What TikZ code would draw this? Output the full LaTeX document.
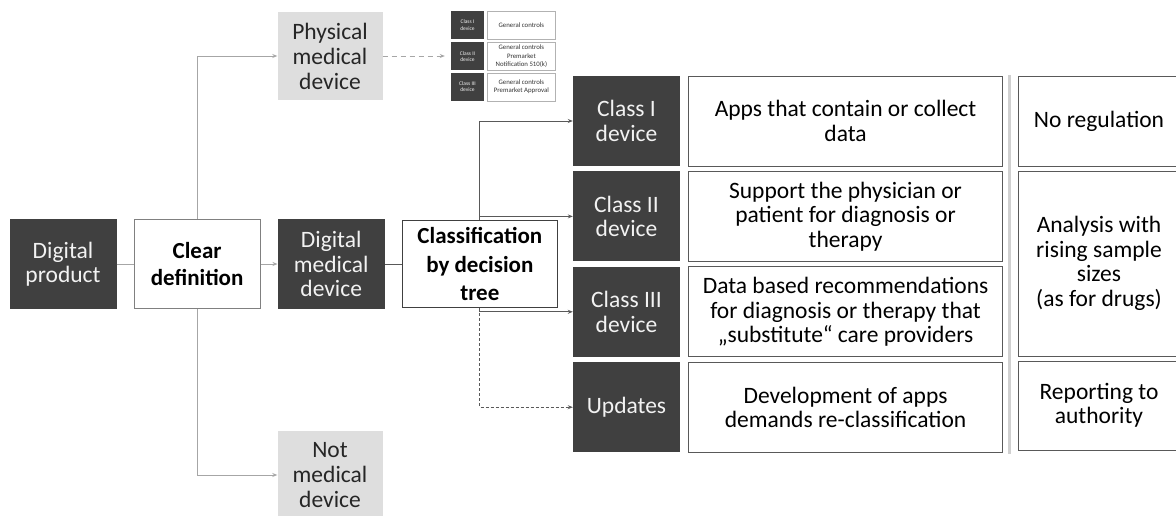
\documentclass[tikz,border=0pt]{standalone}
\usepackage{fontspec}
\setmainfont{Carlito}
\usepackage{xcolor}
\usetikzlibrary{arrows.meta,positioning}

\definecolor{boxdark}{HTML}{404040}
\definecolor{boxlight}{HTML}{DEDEDE}
\definecolor{linegray}{HTML}{A6A6A6}
\definecolor{linedark}{HTML}{595959}
\definecolor{sepgray}{HTML}{D0D0D0}

\begin{document}
\begin{tikzpicture}[
		x=1pt, y=-1pt,
		>={Stealth[length=5pt,width=4pt]},
		node distance = 5pt and 8pt,
		every node/.style = {font=\fontsize{23.5}{24.5}\selectfont, align=center, inner sep=0pt},
		darkbox/.style = {fill=boxdark, text=black!5, minimum width=107pt, minimum height=90pt},
		lightbox/.style = {fill=boxlight, text=black!85, minimum width=105pt, minimum height=88pt,
			font=\fontsize{23.5}{25}\selectfont},
		clearbox/.style = {draw=black!50, fill=white, line width=0.8pt, minimum width=126pt, minimum height=89pt,
			font=\fontsize{23}{27}\selectfont\bfseries},
		treebox/.style = {draw=boxdark, fill=white, line width=0.9pt, minimum width=155pt, minimum height=87pt,
			font=\fontsize{23}{28.3}\selectfont\bfseries},
		descbox/.style = {draw=linedark, fill=white, line width=0.7pt, minimum width=314pt, minimum height=90pt},
		rulebox/.style = {draw=linedark, fill=white, line width=0.7pt, minimum width=162pt},
		tabdark/.style = {fill=boxdark, text=black!5, minimum width=33pt, minimum height=28pt, font=\fontsize{5.5}{6.5}\selectfont},
		tabtext/.style = {draw=black!30, fill=white, text=black!80, minimum width=68pt, minimum height=28pt, font=\fontsize{6.8}{8.5}\selectfont},
		graylink/.style = {draw=linegray, line width=0.9pt},
		darklink/.style = {draw=linedark, line width=0.9pt}
		]
		\useasboundingbox (0,0) rectangle (1176,515);
		
		% Main row ------------------------------------------------------
		\node[darkbox] (prod) at (63,264) {Digital\\product};
		\node[clearbox, right=17pt of prod] (clear) {Clear\\definition};
		\node[darkbox, right=17pt of clear] (dmd) {Digital\\medical\\device};
		\node[treebox, right=17pt of dmd] (tree) {Classification\\by decision\\tree};
		
		% Side branches -------------------------------------------------
		\node[lightbox] (phys) at (330,56) {Physical\\medical\\device};
		\node[lightbox] (notmed) at (330,475) {Not\\medical\\device};
		
		% Small FDA table -----------------------------------------------
		\node[tabdark] (tab1) at (467.5,25) {Class I\\device};
		\node[tabdark, below=3pt of tab1] (tab2) {Class II\\device};
		\node[tabdark, below=2pt of tab2] (tab3) {Class III\\device};
		\node[tabtext, right=3pt of tab1] (ctl1) {General controls};
		\node[tabtext, right=3pt of tab2] (ctl2) {General controls\\Premarket\\Notification 510(k)};
		\node[tabtext, right=3pt of tab3] (ctl3) {General controls\\Premarket Approval};
		
		% Classes -------------------------------------------------------
		\node[darkbox] (cls1) at (626.5,121) {Class I\\device};
		\node[darkbox, below=of cls1] (cls2) {Class II\\device};
		\node[darkbox, below=of cls2] (cls3) {Class III\\device};
		\node[darkbox, below=of cls3] (upd) {Updates};
		
		\node[descbox, right=of cls1] (desc1) {Apps that contain or collect\\data};
		\node[descbox, right=of cls2] (desc2) {Support the physician or\\patient for diagnosis or\\therapy};
		\node[descbox, right=of cls3] (desc3) {Data based recommendations\\for diagnosis or therapy that\\„substitute“ care providers};
		\node[descbox, right=of upd] (desc4) {Development of apps\\demands re-classification};
		
		% Regulation ----------------------------------------------------
		\node[rulebox, minimum height=90pt] (reg1) at (1099,121) {No regulation};
		\node[rulebox, minimum height=185pt] (reg2) at (1099,263.5) {Analysis with\\rising sample\\sizes\\(as for drugs)};
		\node[rulebox, minimum height=89pt] (reg3) at (1099,405.5) {Reporting to\\authority};
		\draw[sepgray, line width=3pt] (1009,75) -- (1009,454);
		
		% Arrows --------------------------------------------------------
		\draw[graylink] (prod) -- (clear);
		\draw[graylink, ->] (clear) -- (dmd);
		\draw[graylink, ->] (clear.north) |- (phys.west);
		\draw[graylink, ->] (clear.south) |- (notmed.west);
		\draw[graylink, dashed, dash pattern=on 5pt off 4pt, ->, shorten >=6pt] (phys) -- (tab2.west |- phys);
		\draw[darklink] (dmd) -- (tree);
		\draw[darklink, ->] (tree.north) |- (cls1.west);
		\draw[darklink, ->] (tree.north) |- (cls2.west);
		\draw[darklink, ->] (tree.south) |- (cls3.west);
		\draw[darklink, densely dashed, ->] (tree.south) |- (upd.west);  % updates loop
	\end{tikzpicture}
\end{document}
